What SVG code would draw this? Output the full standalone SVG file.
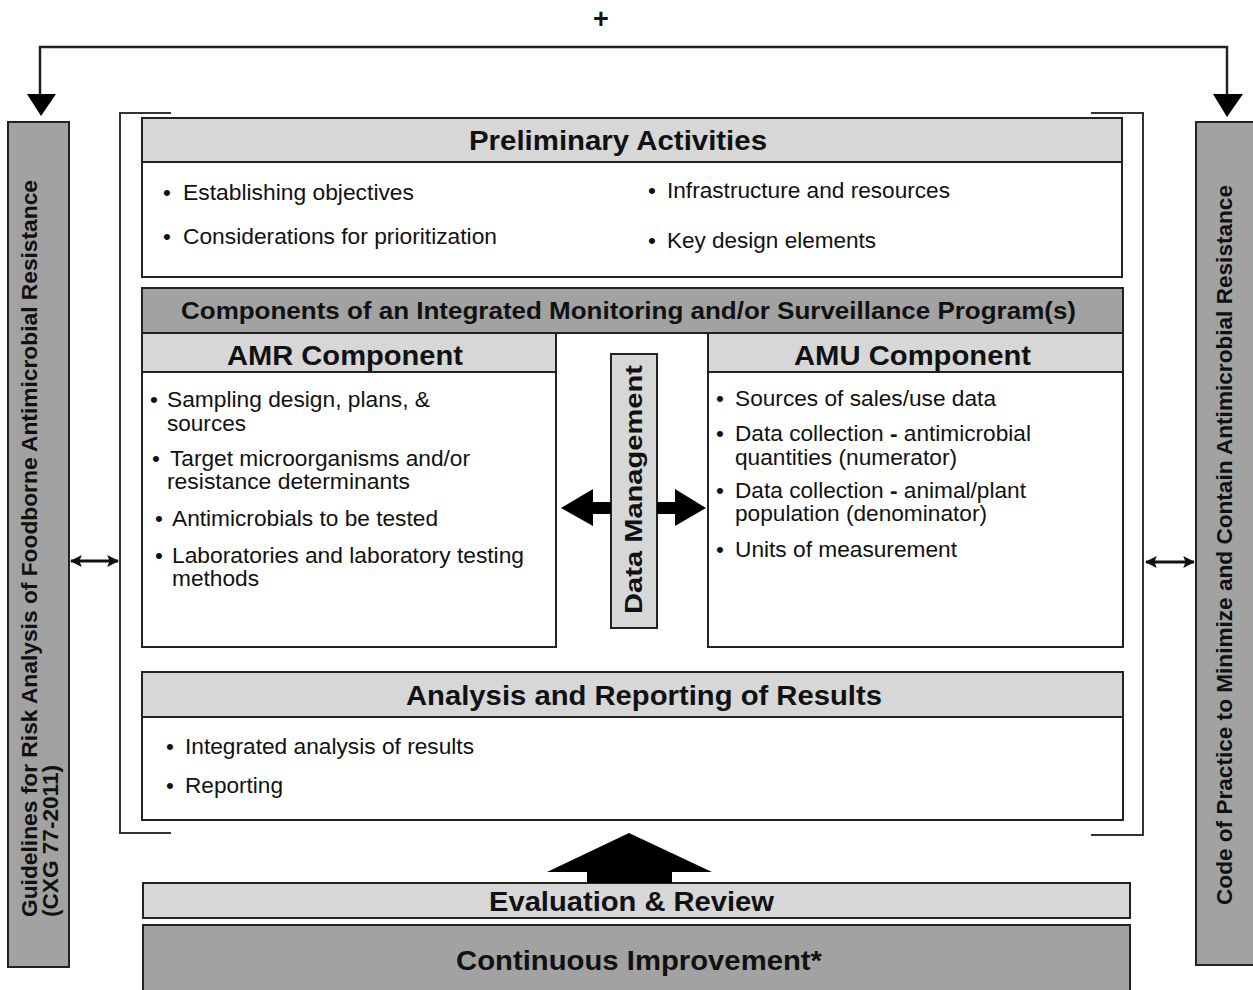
<svg xmlns="http://www.w3.org/2000/svg" width="1253" height="990" viewBox="0 0 1253 990">
<defs>
<style>
.box{stroke:#222;stroke-width:2}
.light{fill:#d7d7d7}
.dark{fill:#a2a2a2}
.white{fill:#fff}
.t{font-family:"Liberation Sans",Arial,sans-serif;fill:#111}
.h{font-weight:bold;font-size:27px}
.hs{font-weight:bold;font-size:24px}
.b{font-size:22.5px}
.v{font-weight:bold;font-size:21.5px}
.ln{stroke:#222;stroke-width:2.5;fill:none}
.br{stroke:#333;stroke-width:2;fill:none}
</style>
<marker id="ah" viewBox="0 0 10 10" refX="9" refY="5" markerWidth="4" markerHeight="5.5" orient="auto-start-reverse" markerUnits="strokeWidth">
<path d="M0,0 L10,5 L0,10 L2,5 Z" fill="#111"/>
</marker>
</defs>
<rect width="1253" height="990" fill="#fff"/>

<g id="side-left">
<rect class="box dark" x="8" y="122" width="61" height="845"/>
<text class="t v" transform="translate(37,917) rotate(-90)" textLength="737" lengthAdjust="spacingAndGlyphs">Guidelines for Risk Analysis of Foodborne Antimicrobial Resistance</text>
<text class="t v" transform="translate(58,917) rotate(-90)" textLength="152" lengthAdjust="spacingAndGlyphs">(CXG 77-2011)</text>
</g>

<g id="side-right">
<rect class="box dark" x="1196" y="122" width="62" height="843"/>
<text class="t v" transform="translate(1232,905) rotate(-90)" textLength="720" lengthAdjust="spacingAndGlyphs">Code of Practice to Minimize and Contain Antimicrobial Resistance</text>
</g>

<g id="bracket">
<path class="br" d="M171,113 H120 V833 H171"/>
<path class="br" d="M1091,113 H1143 V835 H1091"/>
</g>

<g id="preliminary">
<rect class="box white" x="142" y="118" width="980" height="159"/>
<rect class="box light" x="142" y="118" width="980" height="44"/>
<text class="t h" x="469" y="150" textLength="298" lengthAdjust="spacingAndGlyphs">Preliminary Activities</text>
<text class="t b" x="163" y="200">•</text>
<text class="t b" x="183" y="200" textLength="231" lengthAdjust="spacingAndGlyphs">Establishing objectives</text>
<text class="t b" x="163" y="244">•</text>
<text class="t b" x="183" y="244" textLength="314" lengthAdjust="spacingAndGlyphs">Considerations for prioritization</text>
<text class="t b" x="648" y="198">•</text>
<text class="t b" x="667" y="198" textLength="283" lengthAdjust="spacingAndGlyphs">Infrastructure and resources</text>
<text class="t b" x="648" y="248">•</text>
<text class="t b" x="667" y="248" textLength="209" lengthAdjust="spacingAndGlyphs">Key design elements</text>
</g>

<g id="components">
<rect class="box dark" x="142" y="288" width="981" height="45"/>
<text class="t hs" x="181" y="319" textLength="895" lengthAdjust="spacingAndGlyphs">Components of an Integrated Monitoring and/or Surveillance Program(s)</text>
</g>

<g id="amr">
<rect class="box white" x="142" y="333" width="414" height="314"/>
<rect class="box light" x="142" y="333" width="414" height="39"/>
<text class="t h" x="227" y="365" textLength="236" lengthAdjust="spacingAndGlyphs">AMR Component</text>
<text class="t b" x="150" y="407">•</text>
<text class="t b" x="167" y="407" textLength="263" lengthAdjust="spacingAndGlyphs">Sampling design, plans, &amp;</text>
<text class="t b" x="167" y="431" textLength="79" lengthAdjust="spacingAndGlyphs">sources</text>
<text class="t b" x="152" y="466">•</text>
<text class="t b" x="170" y="466" textLength="300" lengthAdjust="spacingAndGlyphs">Target microorganisms and/or</text>
<text class="t b" x="167" y="489" textLength="243" lengthAdjust="spacingAndGlyphs">resistance determinants</text>
<text class="t b" x="155" y="526">•</text>
<text class="t b" x="172" y="526" textLength="266" lengthAdjust="spacingAndGlyphs">Antimicrobials to be tested</text>
<text class="t b" x="155" y="563">•</text>
<text class="t b" x="172" y="563" textLength="352" lengthAdjust="spacingAndGlyphs">Laboratories and laboratory testing</text>
<text class="t b" x="172" y="586" textLength="87" lengthAdjust="spacingAndGlyphs">methods</text>
</g>

<g id="amu">
<rect class="box white" x="708" y="333" width="415" height="314"/>
<rect class="box light" x="708" y="333" width="415" height="39"/>
<text class="t h" x="794" y="365" textLength="237" lengthAdjust="spacingAndGlyphs">AMU Component</text>
<text class="t b" x="716" y="406">•</text>
<text class="t b" x="735" y="406" textLength="261" lengthAdjust="spacingAndGlyphs">Sources of sales/use data</text>
<text class="t b" x="716" y="441">•</text>
<text class="t b" x="735" y="441" textLength="296" lengthAdjust="spacingAndGlyphs">Data collection <tspan font-weight="bold">-</tspan> antimicrobial</text>
<text class="t b" x="735" y="465" textLength="222" lengthAdjust="spacingAndGlyphs">quantities (numerator)</text>
<text class="t b" x="716" y="498">•</text>
<text class="t b" x="735" y="498" textLength="291" lengthAdjust="spacingAndGlyphs">Data collection <tspan font-weight="bold">-</tspan> animal/plant</text>
<text class="t b" x="735" y="521" textLength="252" lengthAdjust="spacingAndGlyphs">population (denominator)</text>
<text class="t b" x="716" y="557">•</text>
<text class="t b" x="735" y="557" textLength="222" lengthAdjust="spacingAndGlyphs">Units of measurement</text>
</g>

<g id="data-management">
<rect class="box light" x="611" y="354" width="46" height="274"/>
<text class="t hs" transform="translate(642,614) rotate(-90)" textLength="249" lengthAdjust="spacingAndGlyphs">Data Management</text>
</g>

<g id="analysis">
<rect class="box white" x="142" y="672" width="981" height="148"/>
<rect class="box light" x="142" y="672" width="981" height="45"/>
<text class="t h" x="406" y="705" textLength="476" lengthAdjust="spacingAndGlyphs">Analysis and Reporting of Results</text>
<text class="t b" x="166" y="754">•</text>
<text class="t b" x="185" y="754" textLength="289" lengthAdjust="spacingAndGlyphs">Integrated analysis of results</text>
<text class="t b" x="166" y="793">•</text>
<text class="t b" x="185" y="793" textLength="98" lengthAdjust="spacingAndGlyphs">Reporting</text>
</g>

<g id="evaluation">
<rect class="box light" x="143" y="883" width="987" height="35"/>
<text class="t h" x="489" y="911" textLength="285" lengthAdjust="spacingAndGlyphs">Evaluation &amp; Review</text>
</g>

<g id="continuous">
<rect class="box dark" x="143" y="925" width="987" height="72"/>
<text class="t h" x="456" y="970" textLength="366" lengthAdjust="spacingAndGlyphs">Continuous Improvement*</text>
</g>

<g id="connectors">
<text class="t" x="601" y="28" font-size="27" font-weight="bold" text-anchor="middle">+</text>
<path class="ln" d="M40,96 V47 H1227 V96"/>
<polygon points="27,94 56,94 41,116" fill="#000"/>
<polygon points="1213,94 1243,94 1227,117" fill="#000"/>
<line x1="71" y1="561" x2="118" y2="561" stroke="#111" stroke-width="3" marker-start="url(#ah)" marker-end="url(#ah)"/>
<line x1="1146" y1="562" x2="1194" y2="562" stroke="#111" stroke-width="3" marker-start="url(#ah)" marker-end="url(#ah)"/>
<polygon points="561,508 593,489 593,502 611,502 611,514 593,514 593,526" fill="#000"/>
<polygon points="706,508 675,489 675,502 657,502 657,514 675,514 675,526" fill="#000"/>
<polygon points="629,833 712,872 672,872 672,883 587,883 587,872 547,872" fill="#000"/>
</g>
</svg>
